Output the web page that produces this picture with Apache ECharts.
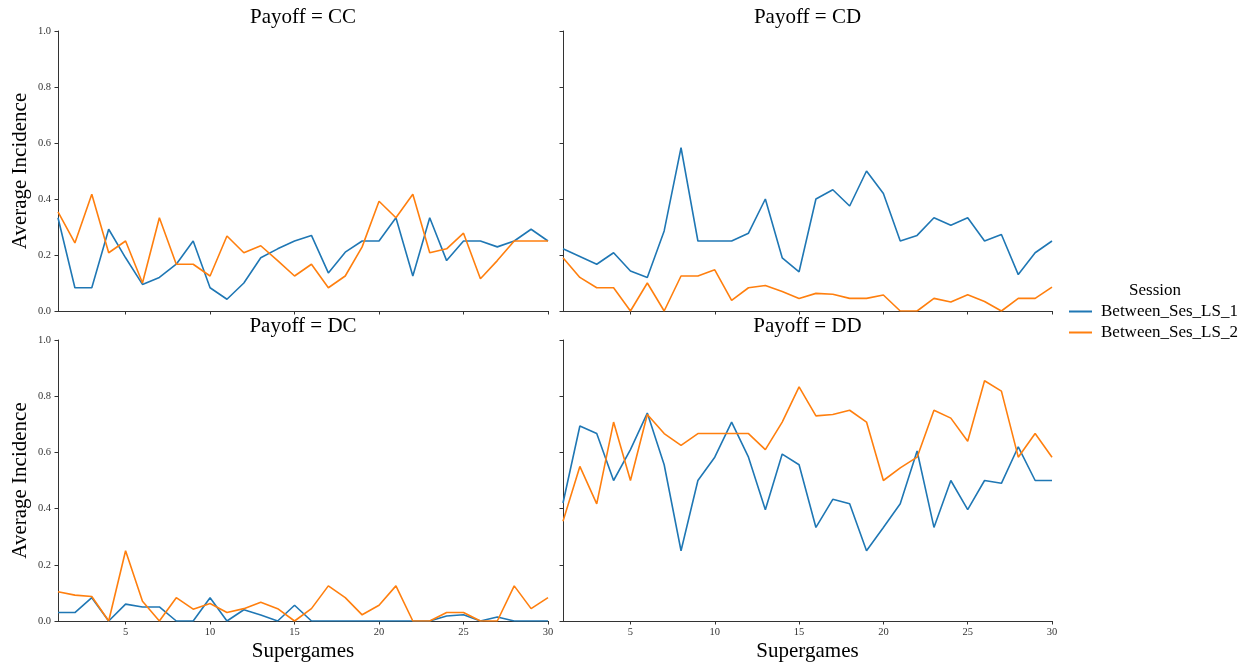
<!DOCTYPE html>
<html>
<head>
<meta charset="utf-8">
<script src="https://cdn.jsdelivr.net/npm/echarts@6/dist/echarts.min.js"></script>
<style>
  html, body { margin: 0; padding: 0; background: #fff; }
  #chart { width: 1252px; height: 669px; }
</style>
</head>
<body>
<div id="chart"></div>
<script>
// Supergame index shared by all four panels
const supergames = [1, 2, 3, 4, 5, 6, 7, 8, 9, 10, 11, 12, 13, 14, 15, 16, 17, 18, 19, 20, 21, 22, 23, 24, 25, 26, 27, 28, 29, 30];
const xTicks = [5, 10, 15, 20, 25, 30];
const sessions = ['Between_Ses_LS_1', 'Between_Ses_LS_2'];
const payoffs = ['CC', 'CD', 'DC', 'DD'];

// Average incidence per supergame, by payoff outcome and session
const ccSes1 = [0.333, 0.083, 0.083, 0.292, 0.19, 0.095, 0.12, 0.167, 0.25, 0.083, 0.042, 0.1, 0.19, 0.222, 0.25, 0.27, 0.136, 0.21, 0.25, 0.25, 0.333, 0.125, 0.333, 0.18, 0.25, 0.25, 0.229, 0.25, 0.292, 0.25];
const ccSes2 = [0.354, 0.243, 0.417, 0.208, 0.25, 0.1, 0.333, 0.167, 0.167, 0.125, 0.268, 0.208, 0.233, 0.18, 0.125, 0.167, 0.083, 0.125, 0.229, 0.392, 0.333, 0.417, 0.208, 0.222, 0.278, 0.115, 0.18, 0.25, 0.25, 0.25];
const cdSes1 = [0.222, 0.195, 0.167, 0.208, 0.143, 0.12, 0.286, 0.583, 0.25, 0.25, 0.25, 0.278, 0.4, 0.19, 0.14, 0.4, 0.433, 0.375, 0.5, 0.42, 0.25, 0.27, 0.333, 0.306, 0.333, 0.25, 0.273, 0.13, 0.208, 0.25];
const cdSes2 = [0.19, 0.12, 0.083, 0.083, 0, 0.1, 0, 0.125, 0.125, 0.147, 0.038, 0.083, 0.091, 0.07, 0.045, 0.063, 0.06, 0.045, 0.045, 0.057, 0, 0, 0.045, 0.032, 0.058, 0.034, 0, 0.045, 0.045, 0.085];
const dcSes1 = [0.03, 0.03, 0.083, 0, 0.06, 0.05, 0.05, 0, 0, 0.083, 0, 0.04, 0.021, 0, 0.056, 0, 0, 0, 0, 0, 0, 0, 0, 0.018, 0.022, 0, 0.014, 0, 0, 0];
const dcSes2 = [0.104, 0.092, 0.087, 0, 0.25, 0.07, 0, 0.083, 0.042, 0.062, 0.03, 0.044, 0.067, 0.044, 0, 0.044, 0.125, 0.083, 0.022, 0.056, 0.125, 0, 0, 0.03, 0.03, 0, 0, 0.125, 0.044, 0.083];
const ddSes1 = [0.42, 0.694, 0.667, 0.5, 0.61, 0.74, 0.556, 0.25, 0.5, 0.583, 0.708, 0.583, 0.396, 0.594, 0.556, 0.333, 0.433, 0.417, 0.25, 0.333, 0.417, 0.605, 0.333, 0.5, 0.396, 0.5, 0.49, 0.62, 0.5, 0.5];
const ddSes2 = [0.355, 0.55, 0.417, 0.708, 0.5, 0.735, 0.667, 0.625, 0.667, 0.667, 0.667, 0.667, 0.61, 0.708, 0.833, 0.73, 0.735, 0.75, 0.708, 0.5, 0.545, 0.583, 0.75, 0.722, 0.64, 0.855, 0.818, 0.583, 0.667, 0.583];

const panelData = [[ccSes1, ccSes2], [cdSes1, cdSes2], [dcSes1, dcSes2], [ddSes1, ddSes2]];
const colors = ['#1f77b4', '#ff7f0e'];
const serif = "'Times New Roman', 'Liberation Serif', serif";
const axisColor = '#333';

// Facet rectangles (2 x 2)
const grids = [
  { left: 58, top: 31, width: 490, height: 280 },
  { left: 563, top: 31, width: 489, height: 280 },
  { left: 58, top: 340, width: 490, height: 281 },
  { left: 563, top: 340, width: 489, height: 281 }
];

const chart = echarts.init(document.getElementById('chart'), null, { renderer: 'canvas' });

const xAxes = grids.map((g, i) => {
  const bottomRow = i >= 2;
  return {
    type: 'value', gridIndex: i, min: 1, max: 30,
    name: bottomRow ? 'Supergames' : '',
    nameLocation: 'middle', nameGap: 20,
    nameTextStyle: { fontFamily: serif, fontSize: 21, color: '#000' },
    splitLine: { show: false },
    axisLine: { show: true, lineStyle: { color: axisColor, width: 1 } },
    axisTick: { show: true, length: 3.5, lineStyle: { color: axisColor }, customValues: xTicks },
    axisLabel: { show: bottomRow, customValues: xTicks, margin: 6, fontFamily: serif, fontSize: 10.5, color: '#333' }
  };
});

const yAxes = grids.map((g, i) => {
  const leftCol = i % 2 === 0;
  return {
    type: 'value', gridIndex: i, min: 0, max: 1, interval: 0.2,
    name: leftCol ? 'Average Incidence' : '',
    nameLocation: 'middle', nameGap: 27,
    nameTextStyle: { fontFamily: serif, fontSize: 21, color: '#000' },
    splitLine: { show: false },
    axisLine: { show: true, lineStyle: { color: axisColor, width: 1 } },
    axisTick: { show: true, length: 3.5, lineStyle: { color: axisColor } },
    axisLabel: { show: leftCol, margin: 7, fontFamily: serif, fontSize: 10.5, color: '#333',
      formatter: v => v.toFixed(1) }
  };
});

const series = [];
panelData.forEach((pair, i) => {
  pair.forEach((vals, s) => {
    series.push({
      type: 'line', name: sessions[s], xAxisIndex: i, yAxisIndex: i,
      data: supergames.map((x, k) => [x, vals[k]]),
      showSymbol: false, symbol: 'none',
      lineStyle: { color: colors[s], width: 1.6 },
      itemStyle: { color: colors[s] },
      animation: false
    });
  });
});

const titles = grids.map((g, i) => ({
  text: 'Payoff = ' + payoffs[i],
  left: g.left + g.width / 2,
  top: g.top - 14,
  textAlign: 'center',
  textVerticalAlign: 'middle',
  padding: 0,
  textStyle: { fontFamily: serif, fontSize: 21, fontWeight: 'normal', color: '#000' }
}));
titles.push({
  text: 'Session', left: 1155, top: 291, textAlign: 'center', textVerticalAlign: 'middle', padding: 0,
  textStyle: { fontFamily: serif, fontSize: 17, fontWeight: 'normal', color: '#000' }
});

chart.setOption({
  animation: false,
  backgroundColor: '#fff',
  title: titles,
  grid: grids,
  xAxis: xAxes,
  yAxis: yAxes,
  legend: {
    data: sessions,
    orient: 'vertical',
    left: 1069, top: 303,
    padding: 0,
    itemWidth: 23, itemHeight: 2,
    itemGap: 4,
    icon: 'rect',
    textStyle: { fontFamily: serif, fontSize: 17, color: '#000', lineHeight: 17, padding: [0, 0, 0, 4] }
  },
  series: series
});
</script>
</body>
</html>
